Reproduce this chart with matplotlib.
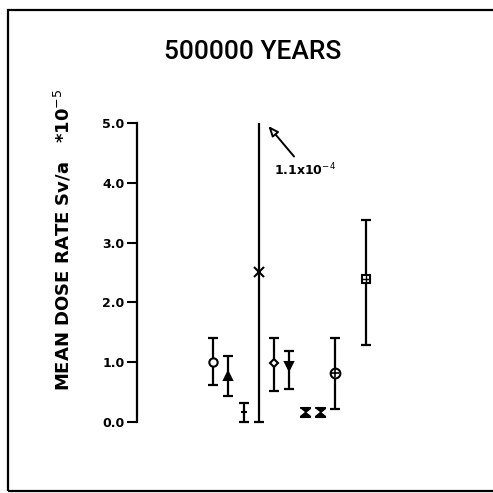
import numpy as np
import matplotlib.pyplot as plt
from matplotlib.patches import Rectangle

# mean dose rate (units of 1e-5 Sv/a) with lower / upper limits
pos = [1, 2, 3, 4, 5, 6, 7, 8, 9, 11]
mean = [1.00, 0.77, 0.17, 2.51, 0.99, 0.93, 0.17, 0.17, 0.81, 2.39]
lower = [0.62, 0.43, 0.00, 0.00, 0.52, 0.55, 0.17, 0.17, 0.21, 1.28]
upper = [1.40, 1.10, 0.32, 11.0, 1.40, 1.19, 0.17, 0.17, 1.40, 3.38]
markers = ['o', '^', '_', 'x', 'D', 'v', 'hg', 'hg', 'op', 'sp']
filled = [False, True, True, True, False, True, True, True, False, False]
peak_label = '1.1x10$^{-4}$'

hourglass = [(-1, 0.8), (-1, 1), (1, 1), (1, 0.8), (0, 0),
             (1, -0.8), (1, -1), (-1, -1), (-1, -0.8), (0, 0)]

fig = plt.figure(figsize=(4.93, 4.93), dpi=100)
ax = fig.add_axes([0.278, 0.126, 0.618, 0.6245])

for i in range(len(pos)):
    x = pos[i]
    m = mean[i]
    if upper[i] > lower[i]:
        ax.errorbar([x], [m], yerr=[[m - lower[i]], [upper[i] - m]], fmt='none',
                    ecolor='black', elinewidth=1.6, capsize=3.7, capthick=1.6)
    mk = markers[i]
    fc = 'black' if filled[i] else 'white'
    if mk == 'hg':
        ax.plot(x, m, marker=hourglass, ms=7, mfc='black', mec='black', mew=1)
    elif mk == 'op':
        ax.plot(x, m, marker='o', ms=7, mfc='white', mec='black', mew=1.5)
        ax.plot(x, m, marker='+', ms=6, mec='black', mew=1.2)
    elif mk == 'sp':
        ax.plot(x, m, marker='s', ms=6, mfc='white', mec='black', mew=1.5)
        ax.plot(x, m, marker='+', ms=6, mec='black', mew=1.0)
    elif mk == 'x':
        ax.plot(x, m, marker='x', ms=7, mec='black', mew=1.5)
    elif mk == '_':
        ax.plot(x, m, marker='_', ms=5, mec='black', mew=1.5)
    elif mk == 'D':
        ax.plot(x, m, marker='D', ms=4.5, mfc='white', mec='black', mew=1.5)
    else:
        ax.plot(x, m, marker=mk, ms=6, mfc=fc, mec='black', mew=1.5)

ax.annotate(peak_label, xy=(4.62, 4.95), xytext=(5.0, 4.13),
            fontsize=9, fontweight='bold', annotation_clip=False,
            arrowprops=dict(arrowstyle='-|>,head_width=0.25,head_length=0.6',
                            fc='white', ec='black', lw=1.4,
                            shrinkA=2, shrinkB=0, mutation_scale=10))

ax.set_xlim(-4, 16)
ax.set_ylim(-0.15, 5.0)
ax.set_yticks([0, 1, 2, 3, 4, 5])
ax.set_yticklabels(['0.0', '1.0', '2.0', '3.0', '4.0', '5.0'],
                   fontsize=9, fontweight='bold')
ax.tick_params(axis='y', length=7, width=1.5, pad=2)
ax.set_xticks([])
for s in ['top', 'right', 'bottom']:
    ax.spines[s].set_visible(False)
ax.spines['left'].set_bounds(0, 5)
ax.spines['left'].set_linewidth(1.6)
ax.patch.set_visible(False)

ax.set_ylabel('MEAN DOSE RATE Sv/a   *10$^{-5}$', fontsize=13, fontweight='bold')
ax.yaxis.set_label_coords(-0.21, 0.62)

fig.text(0.513, 0.895, '500000 YEARS', ha='center', va='center', fontsize=19,
         family='Roboto', fontweight='medium')

fig.patches.append(Rectangle((0.016, 0.004), 0.99, 0.976, transform=fig.transFigure,
                             fill=False, ec='black', lw=1.6))

fig.savefig('out.png')
